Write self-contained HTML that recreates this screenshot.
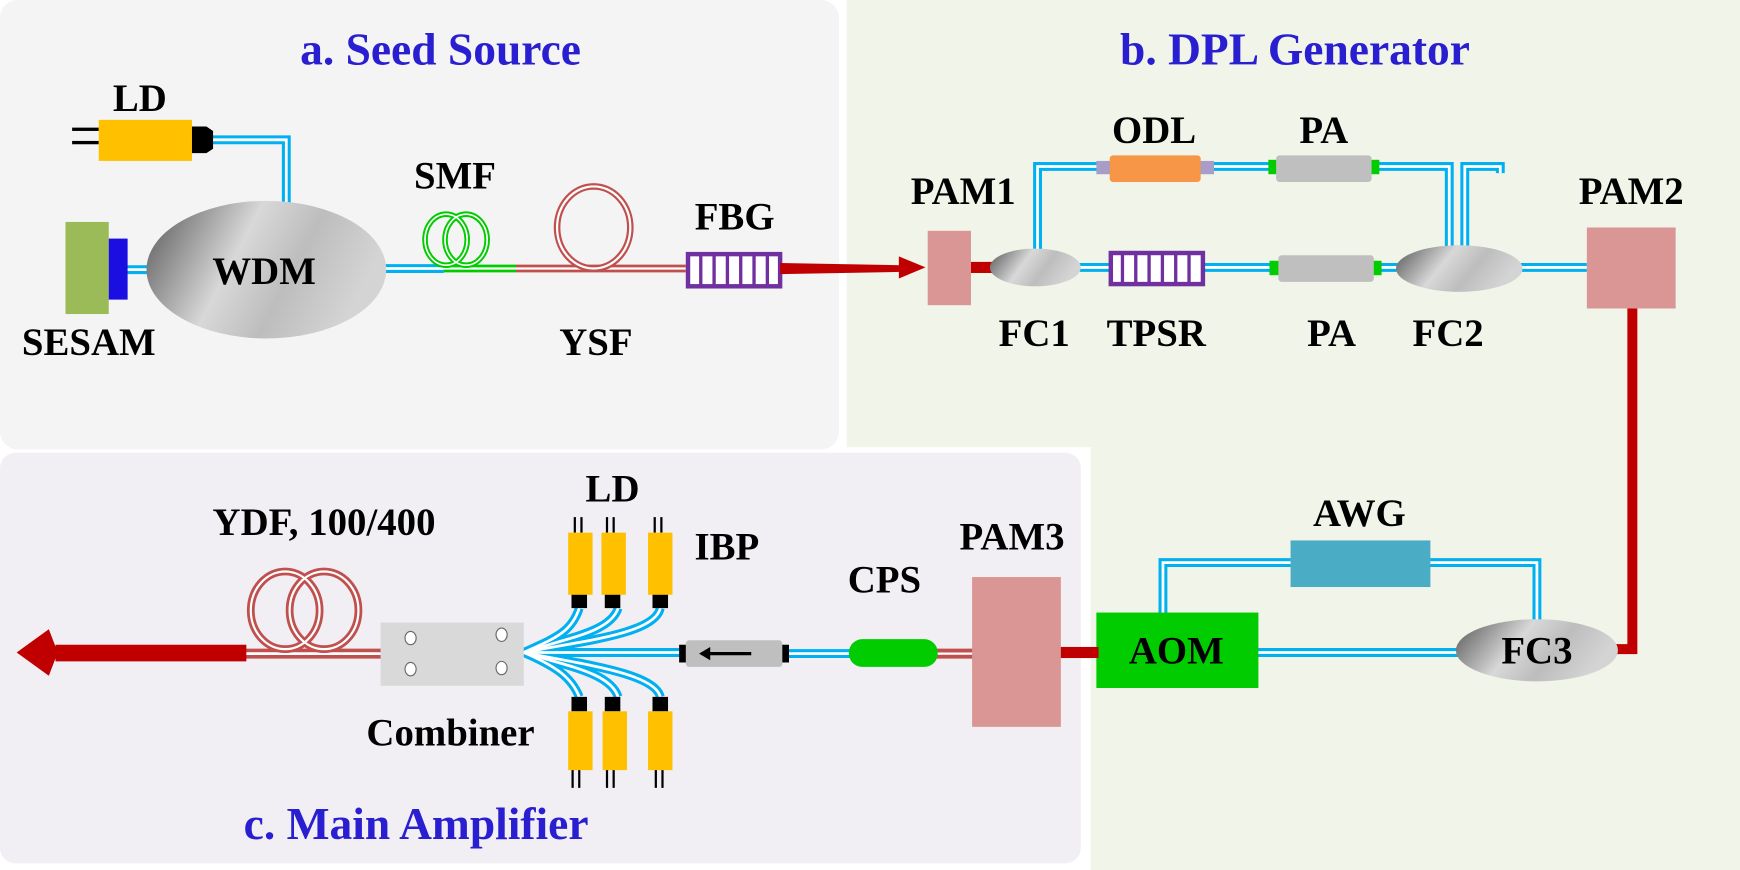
<!DOCTYPE html>
<html><head><meta charset="utf-8"><style>
html,body{margin:0;padding:0;background:#fff}
svg{display:block}
text{font-family:"Liberation Serif",serif;font-weight:bold}
.l{font-size:35px;fill:#000}
.t{font-size:41px;fill:#2a1fd0}
</style></head><body>
<svg width="1740" height="870" viewBox="0 0 1568 784" preserveAspectRatio="none" xmlns="http://www.w3.org/2000/svg">
<defs>
<linearGradient id="g" x1="0" y1="0" x2="1" y2="0.3">
<stop offset="0" stop-color="#555"/><stop offset="0.45" stop-color="#d8d8d8"/><stop offset="0.7" stop-color="#bdbdbd"/><stop offset="1" stop-color="#d4d4d4"/>
</linearGradient>
</defs>
<rect width="1568" height="784" fill="#fff"/>
<rect x="0" y="0" width="756" height="405" rx="16" fill="#f4f4f4"/>
<path d="M763 0 H1568 V784 H983 V403 H763 Z" fill="#f1f4e8"/>
<rect x="0" y="408" width="974" height="370" rx="14" fill="#f1eff4"/>
<text class="t" x="397" y="58" text-anchor="middle">a. Seed Source</text>
<text class="t" x="1167" y="58" text-anchor="middle">b. DPL Generator</text>
<text class="t" x="375" y="756" text-anchor="middle">c. Main Amplifier</text>

<g fill="none" stroke="#00b0f0" stroke-width="8">
<path d="M190 126 H258 V210"/>
<path d="M114 243 H140"/>
<path d="M345 242 H400"/>
<path d="M935 232 V150 H1000"/><path d="M1082 150 H1152"/><path d="M1235 150 H1306 V228"/>
<path d="M1320 226 V150 H1352 V156"/>
<path d="M970 241 H1000"/><path d="M1085 241 H1152"/><path d="M1237 241 H1260"/>
<path d="M1370 241 H1430"/>
<path d="M1385 560 V507 H1288"/><path d="M1163 507 H1048 V552"/>
<path d="M1133 588 H1315"/>
<path d="M705 589 H768"/>
<path d="M472 588 H618"/>
<path d="M472 588 C500 575 515 570 522 548"/><path d="M472 588 C510 575 550 570 557 548"/><path d="M472 588 C520 578 590 572 595 548"/>
<path d="M472 588 C500 600 515 610 522 628"/><path d="M472 588 C510 600 550 606 557 628"/><path d="M472 588 C520 598 590 606 595 628"/>
</g>
<g fill="none" stroke="#fff" stroke-width="2.5">
<path d="M190 126 H258 V210"/>
<path d="M114 243 H140"/>
<path d="M345 242 H400"/>
<path d="M935 232 V150 H1000"/><path d="M1082 150 H1152"/><path d="M1235 150 H1306 V228"/>
<path d="M1320 226 V150 H1352 V156"/>
<path d="M970 241 H1000"/><path d="M1085 241 H1152"/><path d="M1237 241 H1260"/>
<path d="M1370 241 H1430"/>
<path d="M1385 560 V507 H1288"/><path d="M1163 507 H1048 V552"/>
<path d="M1133 588 H1315"/>
<path d="M705 589 H768"/>
<path d="M472 588 H618"/>
<path d="M472 588 C500 575 515 570 522 548"/><path d="M472 588 C510 575 550 570 557 548"/><path d="M472 588 C520 578 590 572 595 548"/>
<path d="M472 588 C500 600 515 610 522 628"/><path d="M472 588 C510 600 550 606 557 628"/><path d="M472 588 C520 598 590 606 595 628"/>
</g>
<path d="M400 242 H465" stroke="#00cc00" stroke-width="7" fill="none"/><path d="M400 242 H465" stroke="#fff" stroke-width="2" fill="none"/>
<path d="M465 242 H618" stroke="#c0504d" stroke-width="7" fill="none"/><path d="M465 242 H618" stroke="#fff" stroke-width="2" fill="none"/>
<g fill="none" stroke="#00cc00" stroke-width="5"><ellipse cx="402" cy="216" rx="19" ry="23"/><ellipse cx="420" cy="216" rx="19" ry="23"/></g>
<g fill="none" stroke="#fff" stroke-width="1.5"><ellipse cx="402" cy="216" rx="19" ry="23"/><ellipse cx="420" cy="216" rx="19" ry="23"/></g>
<ellipse cx="535" cy="205" rx="33" ry="37" fill="none" stroke="#c0504d" stroke-width="6"/><ellipse cx="535" cy="205" rx="33" ry="37" fill="none" stroke="#fff" stroke-width="2"/>

<rect x="65" y="115" width="24" height="3" fill="#000"/><rect x="65" y="127" width="24" height="3" fill="#000"/>
<rect x="89" y="108" width="84" height="37" fill="#ffc000"/>
<path d="M173 114 H186 L192 118 V134 L186 138 H173 Z" fill="#000"/>
<text class="l" x="126" y="100" text-anchor="middle">LD</text>
<rect x="59" y="200" width="39" height="83" fill="#9bbb59"/>
<rect x="98" y="215" width="17" height="55" fill="#1a0fe0"/>
<text class="l" x="80" y="320" text-anchor="middle">SESAM</text>
<ellipse cx="240" cy="243" rx="108" ry="62" fill="url(#g)"/>
<text class="l" x="238" y="256" text-anchor="middle">WDM</text>
<text class="l" x="410" y="170" text-anchor="middle">SMF</text>
<text class="l" x="537" y="320" text-anchor="middle">YSF</text>
<text class="l" x="662" y="207" text-anchor="middle">FBG</text>
<rect x="620" y="229" width="83" height="29" fill="#fff" stroke="#7030a0" stroke-width="4"/>
<g fill="#7030a0"><rect x="630" y="229" width="3" height="29"/><rect x="642" y="229" width="3" height="29"/><rect x="654" y="229" width="3" height="29"/><rect x="666" y="229" width="3" height="29"/><rect x="678" y="229" width="3" height="29"/><rect x="690" y="229" width="3" height="29"/></g>
<path d="M703 237 L812 239 V245 L703 247 Z" fill="#c00000"/>
<path d="M810 231 L834 241 L810 251 Z" fill="#c00000"/>

<rect x="875" y="236" width="22" height="10" fill="#c00000"/>
<rect x="836" y="208" width="39" height="67" fill="#d99694"/>
<text class="l" x="868" y="184" text-anchor="middle">PAM1</text>
<ellipse cx="933" cy="241" rx="41" ry="17" fill="url(#g)"/>
<text class="l" x="932" y="312" text-anchor="middle">FC1</text>
<rect x="988" y="145" width="14" height="12" fill="#a89cc8"/><rect x="1080" y="145" width="14" height="12" fill="#a89cc8"/>
<rect x="1000" y="140" width="82" height="24" rx="3" fill="#f79646"/>
<text class="l" x="1040" y="129" text-anchor="middle">ODL</text>
<rect x="1143" y="144" width="10" height="13" fill="#00cc00"/><rect x="1233" y="144" width="10" height="13" fill="#00cc00"/>
<rect x="1150" y="140" width="86" height="24" rx="3" fill="#bfbfbf"/>
<text class="l" x="1193" y="129" text-anchor="middle">PA</text>
<rect x="1001" y="228" width="83" height="28" fill="#fff" stroke="#7030a0" stroke-width="4"/>
<g fill="#7030a0"><rect x="1010" y="228" width="3" height="28"/><rect x="1022" y="228" width="3" height="28"/><rect x="1034" y="228" width="3" height="28"/><rect x="1046" y="228" width="3" height="28"/><rect x="1058" y="228" width="3" height="28"/><rect x="1070" y="228" width="3" height="28"/></g>
<text class="l" x="1042" y="312" text-anchor="middle">TPSR</text>
<rect x="1144" y="235" width="10" height="13" fill="#00cc00"/><rect x="1235" y="235" width="10" height="13" fill="#00cc00"/>
<rect x="1152" y="230" width="86" height="24" rx="3" fill="#bfbfbf"/>
<text class="l" x="1200" y="312" text-anchor="middle">PA</text>
<ellipse cx="1315" cy="242" rx="57" ry="21" fill="url(#g)"/>
<text class="l" x="1305" y="312" text-anchor="middle">FC2</text>
<rect x="1430" y="205" width="80" height="73" fill="#d99694"/>
<text class="l" x="1470" y="184" text-anchor="middle">PAM2</text>
<path d="M1471 278 V585 H1455" fill="none" stroke="#c00000" stroke-width="9"/>
<ellipse cx="1385" cy="586" rx="73" ry="28" fill="url(#g)"/>
<text class="l" x="1385" y="598" text-anchor="middle">FC3</text>
<rect x="1163" y="487" width="126" height="42" fill="#4bacc6"/>
<text class="l" x="1225" y="474" text-anchor="middle">AWG</text>
<rect x="988" y="552" width="146" height="68" fill="#00cc00"/>
<text class="l" x="1060" y="598" text-anchor="middle">AOM</text>

<rect x="950" y="583" width="40" height="10" fill="#c00000"/>
<path d="M843 589 H878" stroke="#c0504d" stroke-width="9" fill="none"/><path d="M843 589 H878" stroke="#fff" stroke-width="2" fill="none"/>
<rect x="876" y="520" width="80" height="135" fill="#d99694"/>
<text class="l" x="912" y="495" text-anchor="middle">PAM3</text>
<rect x="765" y="576" width="80" height="25" rx="12" fill="#00cc00"/>
<text class="l" x="797" y="534" text-anchor="middle">CPS</text>
<rect x="612" y="581" width="8" height="16" fill="#000"/><rect x="703" y="581" width="8" height="16" fill="#000"/>
<rect x="618" y="577" width="87" height="24" rx="3" fill="#bfbfbf"/>
<path d="M632 589 H677" stroke="#000" stroke-width="3"/><path d="M630 589 L640 583 V595 Z" fill="#000"/>
<text class="l" x="655" y="504" text-anchor="middle">IBP</text>
<g fill="#000">
<rect x="517" y="466" width="2" height="14"/><rect x="523" y="466" width="2" height="14"/>
<rect x="546" y="466" width="2" height="14"/><rect x="552" y="466" width="2" height="14"/>
<rect x="589" y="466" width="2" height="14"/><rect x="595" y="466" width="2" height="14"/>
<rect x="515" y="535" width="14" height="13"/><rect x="545" y="535" width="14" height="13"/><rect x="588" y="535" width="14" height="13"/>
<rect x="515" y="628" width="14" height="13"/><rect x="545" y="628" width="14" height="13"/><rect x="588" y="628" width="14" height="13"/>
<rect x="515" y="693" width="2" height="17"/><rect x="521" y="693" width="2" height="17"/>
<rect x="546" y="693" width="2" height="17"/><rect x="552" y="693" width="2" height="17"/>
<rect x="590" y="693" width="2" height="17"/><rect x="596" y="693" width="2" height="17"/>
</g>
<g fill="#ffc000">
<rect x="512" y="480" width="22" height="56"/><rect x="542" y="480" width="22" height="56"/><rect x="584" y="480" width="22" height="56"/>
<rect x="512" y="641" width="22" height="53"/><rect x="543" y="641" width="22" height="53"/><rect x="584" y="641" width="22" height="53"/>
</g>
<text class="l" x="552" y="452" text-anchor="middle">LD</text>
<rect x="343" y="561" width="129" height="57" fill="#d9d9d9"/>
<g fill="#fff" stroke="#666" stroke-width="1"><ellipse cx="370" cy="575" rx="5" ry="6"/><ellipse cx="452" cy="572" rx="5" ry="6"/><ellipse cx="370" cy="603" rx="5" ry="6"/><ellipse cx="452" cy="602" rx="5" ry="6"/></g>
<text class="l" x="406" y="672" text-anchor="middle">Combiner</text>
<path d="M218 589 H343" stroke="#c0504d" stroke-width="9" fill="none"/><path d="M218 589 H343" stroke="#fff" stroke-width="2.5" fill="none"/>
<g fill="none" stroke="#c0504d" stroke-width="7"><ellipse cx="257" cy="550" rx="31" ry="35"/><ellipse cx="292" cy="550" rx="31" ry="35"/></g>
<g fill="none" stroke="#fff" stroke-width="2"><ellipse cx="257" cy="550" rx="31" ry="35"/><ellipse cx="292" cy="550" rx="31" ry="35"/></g>
<rect x="50" y="581" width="172" height="15" fill="#c00000"/>
<path d="M15 588 L44 567 L52 588 L44 609 Z" fill="#c00000"/>
<text class="l" x="292" y="482" text-anchor="middle">YDF, 100/400</text>
</svg>
</body></html>
